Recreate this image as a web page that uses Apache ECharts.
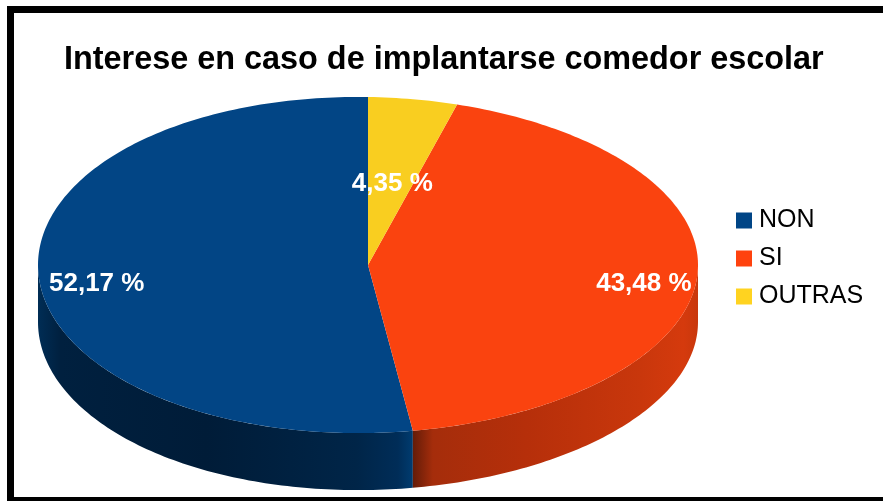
<!DOCTYPE html>
<html><head><meta charset="utf-8">
<style>html,body{margin:0;padding:0;background:#fff}#c{width:883px;height:501px}</style>
<script src="https://cdn.jsdelivr.net/npm/echarts@6/dist/echarts.min.js"></script>
</head><body><div id="c"></div>
<script>
const titleText = 'Interese en caso de implantarse comedor escolar';
const categories = ['NON', 'SI', 'OUTRAS'];
const values = [52.17, 43.48, 4.35];
const topColors = ['#024585', '#fa430f', '#f9ce20'];
const legendColors = ['#004586', '#ff420e', '#ffd320'];
const labelRadius = [0.824, 0.838, 0.54];

// pie drawn clockwise from 12 o'clock, in this order
const drawOrder = [2, 1, 0];
const CX = 368, CY = 265, RX = 330, RY = 168, DEPTH = 57, TILT = 5;
const total = values.reduce((a, b) => a + b, 0);
const spans = {};
let acc = 0;
drawOrder.forEach(i => { spans[i] = [acc / total * 360, (acc + values[i]) / total * 360]; acc += values[i]; });

const pt = (deg, dy) => {
  const r = deg * Math.PI / 180, s = Math.sin(r), c = Math.cos(r);
  return [CX + RX * s, CY - RY * c + TILT * s * c + (dy || 0)];
};
const arc = (a, b, dy) => {
  const n = Math.max(2, Math.ceil(Math.abs(b - a) / 1)), out = [];
  for (let k = 0; k <= n; k++) out.push(pt(a + (b - a) * k / n, dy));
  return out;
};
const hGrad = (x0, x1, stops) => ({
  type: 'linear', x: x0, y: 0, x2: x1, y2: 0, global: true,
  colorStops: stops.map(s => ({ offset: s[0], color: s[1] }))
});
const wallFill = {
  0: hGrad(38, 413, [[0, '#002d55'], [0.06, '#00203f'], [0.45, '#001c38'], [0.85, '#002548'], [0.96, '#002d58'], [1, '#003c70']]),
  1: hGrad(413, 698, [[0, '#641c08'], [0.07, '#a52d0b'], [0.4, '#b62f0a'], [0.8, '#c9370c'], [0.95, '#d53a0d'], [1, '#c8370c']])
};

function render(i) {
  return function (params, api) {
    const v = api.value(0);
    const [a0, a1] = spans[i];
    const children = [];
    const wa = Math.max(a0, 90), wb = Math.min(a1, 270);
    if (wb > wa) {
      children.push({
        type: 'polygon',
        shape: { points: arc(wa, wb, 0).concat(arc(wb, wa, DEPTH)) },
        style: { fill: wallFill[i] }
      });
    }
    children.push({
      type: 'polygon',
      shape: { points: [[CX, CY]].concat(arc(a0, a1, 0)) },
      style: { fill: topColors[i] }
    });
    const mid = (a0 + a1) / 2 * Math.PI / 180, f = labelRadius[i];
    children.push({
      type: 'text',
      z2: 100,
      style: {
        x: CX + RX * f * Math.sin(mid),
        y: CY + 9 - RY * f * Math.cos(mid),
        text: v.toFixed(2).replace('.', ',') + ' %',
        fill: '#fff',
        font: 'bold 26px "Liberation Sans"',
        align: 'center', verticalAlign: 'middle'
      }
    });
    return { type: 'group', children };
  };
}

const chart = echarts.init(document.getElementById('c'), null, { renderer: 'canvas' });
chart.setOption({
  animation: false,
  backgroundColor: '#fff',
  title: {
    text: titleText, left: 64, top: 44, padding: 0,
    textStyle: { fontFamily: 'Liberation Sans', fontWeight: 'bold', fontSize: 32.4, color: '#000' }
  },
  legend: {
    data: categories, orient: 'vertical', left: 736, top: 208, padding: 0,
    icon: 'rect', itemWidth: 16, itemHeight: 16, itemGap: 13,
    textStyle: { fontFamily: 'Liberation Sans', fontSize: 25, color: '#000', padding: [0, 0, 0, 2] }
  },
  graphic: [
    { type: 'rect', shape: { x: 7, y: 6, width: 900, height: 7, r: 0 }, style: { fill: '#000' }, z: 10 },
    { type: 'rect', shape: { x: 7, y: 6, width: 7, height: 500 }, style: { fill: '#000' }, z: 10 },
    { type: 'rect', shape: { x: 7, y: 497, width: 900, height: 6 }, style: { fill: '#000' }, z: 10 }
  ],
  series: categories.map((name, i) => ({
    type: 'custom',
    name,
    coordinateSystem: 'none',
    itemStyle: { color: legendColors[i] },
    renderItem: render(i),
    data: [[values[i]]]
  }))
});
</script></body></html>
